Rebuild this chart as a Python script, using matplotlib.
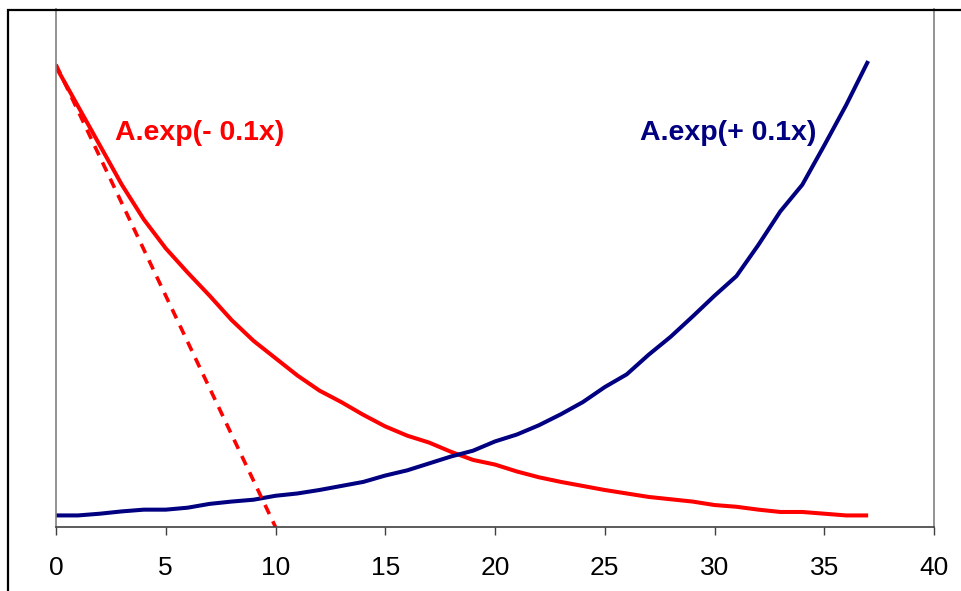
import matplotlib
matplotlib.use('Agg')
from matplotlib import pyplot as plt
from matplotlib.patches import Rectangle

plt.rcParams['font.family'] = ['Liberation Sans', 'DejaVu Sans']

# values, x = 0 .. 37
x = list(range(38))
decay = [39.8, 36.4, 33.0, 29.6, 26.6, 24.1, 22.0, 20.0, 17.9, 16.1,
         14.6, 13.1, 11.8, 10.8, 9.7, 8.7, 7.9, 7.3, 6.5, 5.8,
         5.4, 4.8, 4.3, 3.9, 3.55, 3.2, 2.9, 2.6, 2.4, 2.2,
         1.9, 1.75, 1.5, 1.3, 1.3, 1.15, 1.0, 1.0]
growth = [1.0, 1.0, 1.15, 1.35, 1.5, 1.5, 1.67, 2.0, 2.2, 2.36,
          2.7, 2.9, 3.2, 3.55, 3.9, 4.45, 4.9, 5.5, 6.1, 6.6,
          7.4, 8.0, 8.8, 9.75, 10.8, 12.1, 13.2, 14.9, 16.45, 18.2,
          20.0, 21.7, 24.4, 27.3, 29.6, 33.0, 36.5, 40.3]
# tangent of the decay curve at x = 0
tangent_x = [0, 10]
tangent_y = [40, 0]

xticks = [0, 5, 10, 15, 20, 25, 30, 35, 40]

fig = plt.figure(figsize=(9.62, 5.91), dpi=100)
ax = fig.add_axes([56/962, 1 - 527/591, (934 - 56)/962, (527 - 9)/591])

ax.plot(x, decay, c='#ff0000', lw=2.9, solid_joinstyle='round',
        solid_capstyle='butt')
ax.plot(x, growth, c='#000080', lw=2.9, solid_joinstyle='round',
        solid_capstyle='butt')
ax.plot(tangent_x, tangent_y, c='#ff0000', lw=2.6, dashes=(2.8, 2.2))

ax.text(2.7, 34.1, 'A.exp(- 0.1x)', color='#ff0000', fontsize=20.5,
        fontweight='bold', ha='left', va='center')
ax.text(26.6, 34.1, 'A.exp(+ 0.1x)', color='#000080', fontsize=20.5,
        fontweight='bold', ha='left', va='center')

ax.set_xlim(0, 40)
ax.set_ylim(0, 44.8)
ax.set_xticks(xticks)
ax.set_yticks([])
ax.tick_params(axis='x', direction='out', length=6, width=1,
               color='#404040', labelsize=19, pad=15)
ax.spines['top'].set_visible(False)
ax.spines['left'].set_color('#808080')
ax.spines['right'].set_color('#808080')
ax.spines['bottom'].set_color('#404040')
for s in ('left', 'right', 'bottom'):
    ax.spines[s].set_linewidth(1.2)

# outer chart frame, cut off by the picture edge at right and bottom
top = 1 - 9.5/591
fig.patches.append(Rectangle((8/962, -0.2), 1.2, top + 0.2,
                             transform=fig.transFigure, fill=False,
                             edgecolor='black', lw=1.6))

fig.savefig('out.png', dpi=100)
